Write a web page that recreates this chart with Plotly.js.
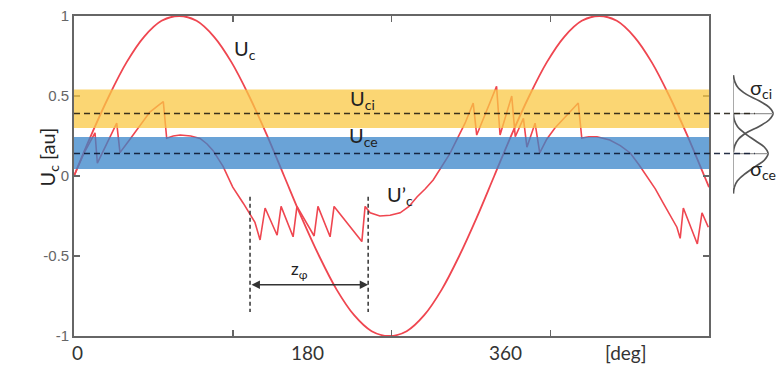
<!DOCTYPE html>
<html>
<head>
<meta charset="utf-8">
<script src="https://cdn.plot.ly/plotly-3.0.1.min.js"></script>
<style>html,body{margin:0;padding:0;background:#fff;}#chart{width:778px;height:366px;}</style>
</head>
<body>
<div id="chart"></div>
<script>
// ---- data ----
const ucDeg = [0,15,30,45,60,75,90,105,120,135,150,165,180,195,210,225,240,255,270,285,300,315,330,345,360,375,390,405,420,435,450,465,480,495,510,525,540,544];
const ucVal = [0,0.26,0.5,0.71,0.87,0.97,1,0.97,0.87,0.71,0.5,0.26,0,-0.26,-0.5,-0.71,-0.87,-0.97,-1,-0.97,-0.87,-0.71,-0.5,-0.26,0,0.26,0.5,0.71,0.87,0.97,1,0.97,0.87,0.71,0.5,0.26,0,-0.07];

const ucpDeg = [0,9,18,20,36.6,39.4,47,54,65,72,76.5,79.4,85,91,100,108,114,119,127.7,136,145,155,159.4,163.7,174,177.4,187.7,191,205.7,209,219.4,222.8,246.6,249.4,253.7,262,270.8,279.4,287,294,301,307.7,315,322,335,342,345,362,365,375,378,385,388,395,399,405,412,421,428,432,435,441,448,459,468,476.5,484,490.8,498,504.8,511,516.5,519.3,522,534,538,543.4];
const ucpVal = [0,0.15,0.27,0.08,0.33,0.146,0.22,0.29,0.40,0.44,0.465,0.236,0.25,0.256,0.25,0.235,0.2,0.16,0.06,-0.07,-0.17,-0.29,-0.40,-0.20,-0.37,-0.19,-0.38,-0.19,-0.375,-0.19,-0.38,-0.19,-0.41,-0.19,-0.23,-0.25,-0.245,-0.23,-0.19,-0.13,-0.08,-0.025,0.06,0.14,0.33,0.456,0.256,0.56,0.256,0.50,0.245,0.36,0.18,0.33,0.144,0.23,0.30,0.37,0.43,0.456,0.237,0.245,0.245,0.225,0.19,0.144,0.07,0.0,-0.08,-0.17,-0.25,-0.32,-0.39,-0.20,-0.425,-0.23,-0.32];

// threshold bands and levels
const uciBand = [0.30, 0.54];
const uceBand = [0.044, 0.244];
const uciLevel = 0.39;
const uceLevel = 0.14;

// distributions drawn to the right (amplitude vs level)
const sigCiY = [0.63,0.59,0.55,0.51,0.47,0.43,0.39,0.35,0.31,0.27,0.23,0.19,0.15];
const sigCiX = [0.01,0.04,0.12,0.30,0.58,0.80,0.89,0.80,0.58,0.30,0.12,0.04,0.01];
const sigCeY = [0.39,0.35,0.31,0.27,0.22,0.18,0.14,0.10,0.06,0.01,-0.03,-0.07,-0.11];
const sigCeX = [0.01,0.03,0.10,0.25,0.50,0.70,0.78,0.70,0.50,0.25,0.10,0.03,0.01];
const sigBaseY = [0.6, -0.075];

// z_phi interval
const zphi = [150.8, 252];
const zphiLevel = -0.68;
const zphiLineY = [-0.13, -0.85];

// axis ticks and labels
const xTickVals = [0,136,272,408,544];
const xLabelText = ['0','180','360','[deg]'];
const xLabelPos = [3.4, 200, 370, 473];
const yTickVals = [-1,-0.5,0,0.5,1];
const yTickText = ['-1','-0.5','0','0.5','1'];

const RED = '#EF4650';
const FONT = 'Lato, "Open Sans", sans-serif';

const traces = [
  {x: ucDeg, y: ucVal, type:'scatter', mode:'lines', line:{color:RED, width:1.8, shape:'spline', smoothing:1}, hoverinfo:'skip'},
  {x: ucpDeg, y: ucpVal, type:'scatter', mode:'lines', line:{color:RED, width:1.6}, hoverinfo:'skip'},
  {x: sigCiX, y: sigCiY, xaxis:'x2', yaxis:'y2', type:'scatter', mode:'lines', line:{color:'#555', width:1.7, shape:'spline'}, hoverinfo:'skip'},
  {x: sigCeX, y: sigCeY, xaxis:'x2', yaxis:'y2', type:'scatter', mode:'lines', line:{color:'#555', width:1.7, shape:'spline'}, hoverinfo:'skip'},
  {x: [0,0], y: sigBaseY, xaxis:'x2', yaxis:'y2', type:'scatter', mode:'lines', line:{color:'#999', width:1.8}, hoverinfo:'skip'},
  {x: [0, sigCiX[6]], y: [uciLevel, uciLevel], xaxis:'x2', yaxis:'y2', type:'scatter', mode:'lines', line:{color:'#999', width:1.3}, hoverinfo:'skip'},
  {x: [0, sigCeX[6]], y: [uceLevel, uceLevel], xaxis:'x2', yaxis:'y2', type:'scatter', mode:'lines', line:{color:'#999', width:1.3}, hoverinfo:'skip'}
];

const shapes = [
  {type:'rect', xref:'paper', yref:'y', x0:0, x1:0.902, y0:uciBand[0], y1:uciBand[1], fillcolor:'#FAC844', opacity:0.75, line:{width:0}, layer:'above'},
  {type:'rect', xref:'paper', yref:'y', x0:0, x1:0.902, y0:uceBand[0], y1:uceBand[1], fillcolor:'#3884CA', opacity:0.75, line:{width:0}, layer:'above'},
  {type:'line', xref:'paper', yref:'y', x0:0, x1:0.967, y0:uciLevel, y1:uciLevel, line:{color:'rgba(25,20,10,0.85)', width:1.5, dash:'6px,4px'}, layer:'above'},
  {type:'line', xref:'paper', yref:'y', x0:0, x1:0.967, y0:uceLevel, y1:uceLevel, line:{color:'rgba(10,20,45,0.88)', width:1.5, dash:'6px,4px'}, layer:'above'},
  {type:'line', xref:'x', yref:'y', x0:zphi[0], x1:zphi[0], y0:zphiLineY[0], y1:zphiLineY[1], line:{color:'#333', width:1.5, dash:'4px,3px'}, layer:'above'},
  {type:'line', xref:'x', yref:'y', x0:zphi[1], x1:zphi[1], y0:zphiLineY[0], y1:zphiLineY[1], line:{color:'#333', width:1.5, dash:'4px,3px'}, layer:'above'}
];

const txt = (t, x, y, size, extra) => Object.assign({text:t, x:x, y:y, xref:'x', yref:'y', showarrow:false, font:{family:FONT, size:size, color:'#222'}}, extra||{});

const annotations = [
  txt('U<sub>c</sub>', 146.5, 0.79, 20),
  txt('U<sub>ci</sub>', 247, 0.48, 20),
  txt('U<sub>ce</sub>', 248, 0.245, 20),
  txt('U\u2019<sub>c</sub>', 279, -0.12, 20),
  txt('z<sub>\u03c6</sub>', 193.5, -0.59, 17),
  {x: zphi[1], y: zphiLevel, ax: zphi[0], ay: zphiLevel, xref:'x', yref:'y', axref:'x', ayref:'y', text:'', showarrow:true, arrowhead:2, arrowside:'end+start', arrowsize:1.2, arrowwidth:1.4, arrowcolor:'#333'},
  {text:'\u03c3<sub>ci</sub>', xref:'paper', yref:'y', x:0.958, y:0.55, xanchor:'left', showarrow:false, font:{family:FONT, size:20, color:'#222'}},
  {text:'\u03c3<sub>ce</sub>', xref:'paper', yref:'y', x:0.958, y:0.04, xanchor:'left', showarrow:false, font:{family:FONT, size:20, color:'#222'}},
  {text:'U<sub>c</sub> [au]', xref:'paper', yref:'y', x:-0.058, y:0.12, textangle:-90, showarrow:false, font:{family:FONT, size:20, color:'#222'}}
];
xLabelText.forEach((t,i) => annotations.push({text:t, x:xLabelPos[i], xref:'x', yref:'paper', y:-0.052, yanchor:'middle', showarrow:false, font:{family:FONT, size:19, color:'#333'}}));

const layout = {
  width:778, height:366,
  margin:{l:74, r:0, t:16, b:30},
  paper_bgcolor:'#fff', plot_bgcolor:'#fff',
  showlegend:false,
  xaxis:{domain:[0,0.902], range:[0,544], tickvals:xTickVals, showticklabels:false, ticks:'inside', ticklen:6, tickwidth:1.5, tickcolor:'#666',
         showline:true, linecolor:'#666', linewidth:1.8, mirror:'ticks', showgrid:false, zeroline:false, anchor:'y'},
  yaxis:{range:[-1,1], tickvals:yTickVals, ticktext:yTickText, ticks:'inside', ticklen:6, tickwidth:1.5, tickcolor:'#666',
         showline:true, linecolor:'#666', linewidth:1.8, mirror:'ticks', showgrid:false, zeroline:false, anchor:'x',
         tickfont:{family:'"Liberation Sans", Arial, sans-serif', size:15, color:'#666'}},
  xaxis2:{domain:[0.936,1], range:[0,1], visible:false, anchor:'y2'},
  yaxis2:{domain:[0,1], range:[-1,1], visible:false, anchor:'x2'},
  shapes:shapes,
  annotations:annotations
};

Plotly.newPlot('chart', traces, layout, {staticPlot:true, displayModeBar:false});
</script>
</body>
</html>
